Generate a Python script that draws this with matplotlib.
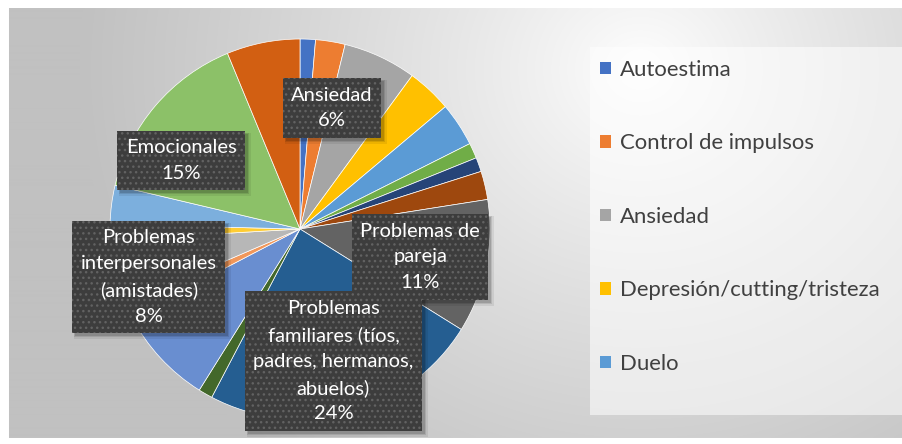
import textwrap
import numpy as np
import matplotlib
matplotlib.use("Agg")
import matplotlib.pyplot as plt
from matplotlib.patches import Rectangle
import matplotlib.transforms as mtransforms

# ---------------- data ----------------
categories = [
    "Autoestima", "Control de impulsos", "Ansiedad", "Depresión/cutting/tristeza",
    "Duelo", "Categoría 6", "Categoría 7", "Categoría 8", "Problemas de pareja",
    "Problemas familiares (tíos, padres, hermanos, abuelos)", "Categoría 11",
    "Problemas interpersonales (amistades)", "Categoría 13", "Categoría 14",
    "Categoría 15", "Categoría 16", "Emocionales", "Categoría 18",
]
values = [1.3, 2.5, 6.2, 3.8, 3.7, 1.3, 1.2, 2.4, 11.3, 23.7,
          1.2, 8.4, 1.2, 5.5, 1.3, 3.3, 15.0, 6.2]
legend_entries = categories[:5]

# ---------------- styles / layout ----------------
colors = ['#4472C4', '#ED7D31', '#A5A5A5', '#FFC000', '#5B9BD5', '#70AD47',
          '#264478', '#9E480E', '#636363', '#255E91', '#43682B', '#698ED0',
          '#F1975A', '#B7B7B7', '#FFCD33', '#7CAFDD', '#8CC168', '#D25F12']
# label positions (pie coords, radius = 1) and wrap widths
label_layout = {
    "Ansiedad": ((0.168, 0.637), 20),
    "Emocionales": ((-0.626, 0.361), 20),
    "Problemas de pareja": ((0.632, -0.147), 12),
    "Problemas interpersonales (amistades)": ((-0.795, -0.253), 15),
    "Problemas familiares (tíos, padres, hermanos, abuelos)": ((0.176, -0.695), 17),
}

W, H = 903, 444
DPI = 100
FONT = ['Lato', 'DejaVu Sans']
plt.rcParams['font.family'] = FONT

fig = plt.figure(figsize=(W / DPI, H / DPI), dpi=DPI)
fig.patch.set_facecolor('white')

# background gradient
bg_ax = fig.add_axes([0, 0, 1, 1], zorder=-10)
yy, xx = np.mgrid[0:H, 0:W]
d = np.hypot((xx - 640) * 1.0, (yy - 70) * 1.1)
shade = 255 - 62 * np.clip(d / 560, 0, 1) ** 0.85
img = np.repeat((shade / 255.0)[:, :, None], 3, axis=2)
mask = (xx < 9) | (yy < 9) | (yy > 437)
img[mask] = 1.0
bg_ax.imshow(img, extent=[0, W, H, 0], aspect='auto', interpolation='bilinear')
# legend panel (lighter)
bg_ax.add_patch(Rectangle((590, 47), 313, 368, facecolor='white', alpha=0.55,
                          edgecolor='none'))
bg_ax.set_xlim(0, W)
bg_ax.set_ylim(H, 0)
bg_ax.axis('off')

# pie axes: center (300, 229) px, radius 190 px
cx, cy, R = 300, 229, 190
ax = fig.add_axes([(cx - R) / W, (H - cy - R) / H, 2 * R / W, 2 * R / H])
wedges, _ = ax.pie(values, colors=colors, startangle=90, counterclock=False,
                   radius=1, wedgeprops=dict(edgecolor='white', linewidth=0.5))
ax.set_xlim(-1, 1)
ax.set_ylim(-1, 1)
ax.set_aspect('auto')
ax.axis('off')

total = sum(values)
label_texts = []
for name, val in zip(categories, values):
    if name not in label_layout:
        continue
    (lx, ly), wrap = label_layout[name]
    txt = textwrap.fill(name, width=wrap) + "\n" + f"{round(val / total * 100):.0f}%"
    t = ax.text(lx, ly, txt, ha='center', va='center', fontsize=14.5,
                linespacing=1.62, color='white', zorder=6,
                bbox=dict(boxstyle='square,pad=0.42', facecolor='#3d3d3d',
                          edgecolor='#626262', linewidth=0, hatch='...'))
    label_texts.append(t)

# soft drop shadows behind the label boxes
fig.canvas.draw()
renderer = fig.canvas.get_renderer()
for t in label_texts:
    bb = t.get_bbox_patch().get_window_extent(renderer)
    for off, grow, a in [(4, 2, 0.07), (3, 1, 0.10), (3, 0, 0.14)]:
        ax.add_patch(Rectangle((bb.x0 + off - grow, bb.y0 - off - grow),
                               bb.width + 2 * grow, bb.height + 2 * grow,
                               transform=mtransforms.IdentityTransform(),
                               facecolor='black', alpha=a, edgecolor='none',
                               zorder=5, clip_on=False))

# legend
leg = fig.legend(handles=wedges[:5], labels=legend_entries, loc='upper left',
                 bbox_to_anchor=(600 / W, 1 - 60 / H), frameon=False,
                 fontsize=15.9, handlelength=0.5, handleheight=0.5,
                 handletextpad=0.42, labelspacing=2.42, borderpad=0,
                 borderaxespad=0, labelcolor='#404040')
for h in leg.legend_handles:
    h.set_edgecolor('none')

fig.savefig('out.png', dpi=DPI)
